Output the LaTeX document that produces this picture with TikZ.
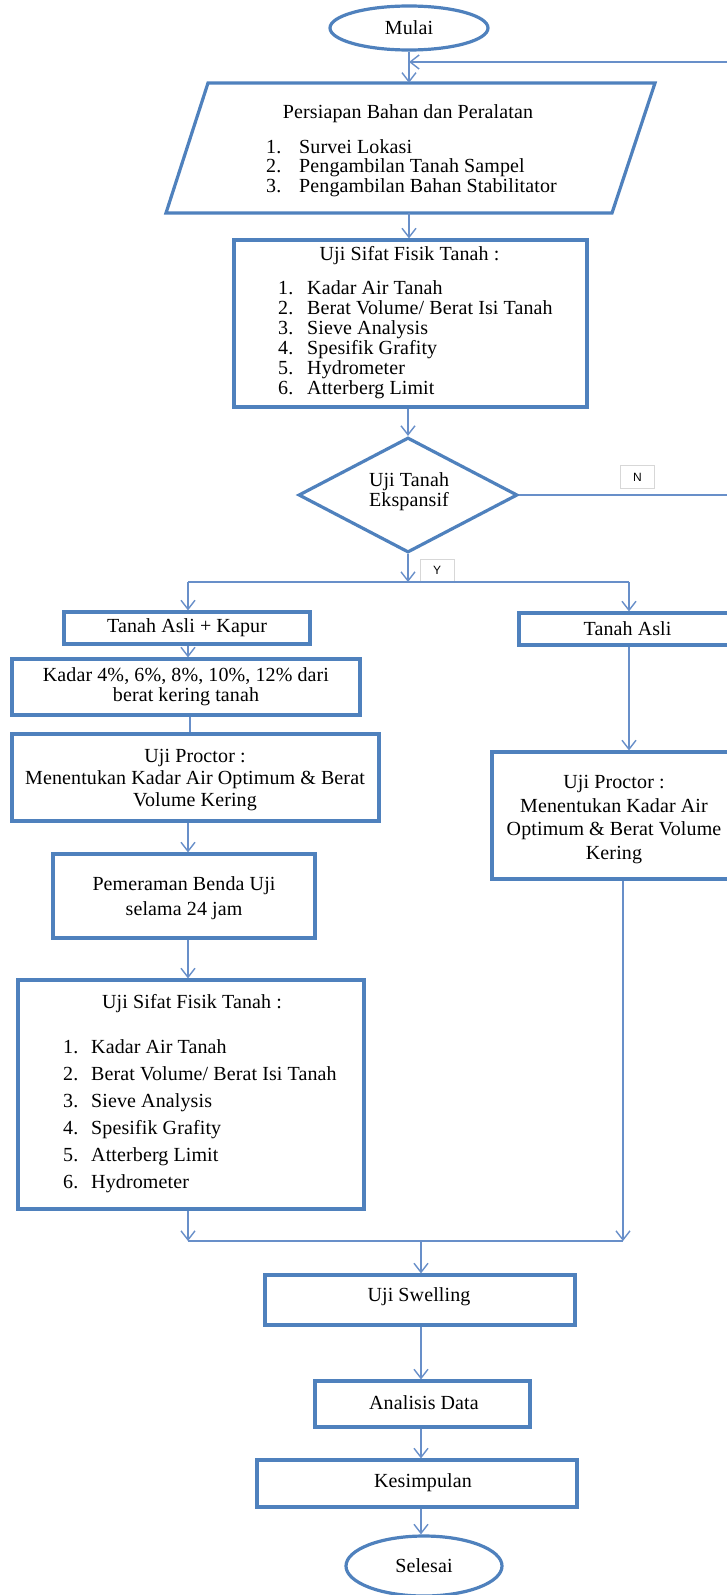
\documentclass[tikz,border=0pt]{standalone}
\usepackage{fontspec}
\setmainfont{Liberation Serif}[LetterSpace=0.6]
\newfontfamily\lblsans{Liberation Sans}
\usetikzlibrary{arrows.meta,shapes.geometric}
\definecolor{boxblue}{RGB}{79,129,189}
\definecolor{lineblue}{RGB}{104,143,201}
\definecolor{lblgray}{RGB}{215,215,215}
\newcommand\fs{\fontsize{20}{20}\selectfont}
\begin{document}
\begin{tikzpicture}[x=1pt,y=-1pt,
  box/.style={draw=boxblue, line width=3.2pt, fill=white, inner sep=0pt, rectangle},
  boxline/.style={draw=boxblue, line width=3.2pt},
  oval/.style={ellipse, draw=boxblue, line width=3.2pt, fill=white, inner sep=0pt, font=\fs},
  conn/.style={draw=lineblue, line width=1.4pt},
  arr/.style={conn, -{Straight Barb[length=9pt,width=14pt]}},
  txt/.style={inner sep=0pt, font=\fs, align=center},
  lbl/.style={draw=lblgray, fill=white, font=\lblsans\fontsize{12}{12}\selectfont, minimum width=34pt, minimum height=23pt, inner sep=0pt, line width=0.8pt}]
\useasboundingbox (0,0) rectangle (727,1595);
\clip (0,0) rectangle (727,1595);
\fill[white] (0,0) rectangle (727,1595);

% column coordinates
\coordinate (cT) at (409,0);
\coordinate (cL) at (188,0);
\coordinate (cK) at (190,0);
\coordinate (cR1) at (629,0);
\coordinate (cR2) at (623,0);
\coordinate (cC) at (421,0);

% ---- nodes ----
\node[oval, minimum width=158pt, minimum height=44pt] (mulai) at (409,28) {Mulai};

\node[inner sep=0pt, minimum width=446pt, minimum height=130pt] (par) at (409,148) {};
\draw[boxline] (208,83) -- (655,83) -- (612,213) -- (166,213) -- cycle;
\node[txt] (part) at (408,114) {Persiapan Bahan dan Peralatan};
\node[anchor=base west, inner sep=0pt] (parl) at (266,153) {\fontsize{20}{19.5}\selectfont
  \begin{tabular}[t]{@{}p{33pt}@{}l@{}}1.&Survei Lokasi\\2.&Pengambilan Tanah Sampel\\3.&Pengambilan Bahan Stabilitator\end{tabular}};

\node[box, minimum width=353pt, minimum height=167pt] (b1) at (410.5,323.5) {};
\node[txt] (b1t) at (409.5,256) {Uji Sifat Fisik Tanah :};
\node[anchor=base west, inner sep=0pt] (b1l) at (278,294) {\fontsize{20}{20}\selectfont
  \begin{tabular}[t]{@{}p{29pt}@{}l@{}}1.&Kadar Air Tanah\\2.&Berat Volume/ Berat Isi Tanah\\3.&Sieve Analysis\\4.&Spesifik Grafity\\5.&Hydrometer\\6.&Atterberg Limit\end{tabular}};

\node[diamond, draw=boxblue, line width=3.2pt, fill=white, minimum width=219pt, minimum height=115pt, inner sep=0pt] (dia) at (408,495) {};
\node[txt] (diat) at (409,492) {Uji Tanah\\Ekspansif};

\node[lbl] (nlab) at (637.5,477) {N};
\node[lbl] (ylab) at (437,570.5) {Y};

\coordinate (spl) at (408,582);
\coordinate (splL) at (188,582);
\coordinate (splR) at (629,582);

\node[box, minimum width=246pt, minimum height=32pt] (kap) at (187,628) {};
\node[txt] (kapt) at (187,628) {Tanah Asli + Kapur};

\node[box, minimum width=221pt, minimum height=32pt] (asli) at (629.5,629) {};
\node[txt] (aslit) at (627.5,629) {Tanah Asli};

\node[box, minimum width=348pt, minimum height=56pt] (kad) at (186,687) {};
\node[txt] (kadt) at (186,687) {Kadar 4\%, 6\%, 8\%, 10\%, 12\% dari\\berat kering tanah};

\node[box, minimum width=367pt, minimum height=87pt] (prl) at (195.5,777.5) {};
\node[txt, font=\fontsize{20}{22}\selectfont] (prlt) at (195,780) {Uji Proctor :\\Menentukan Kadar Air Optimum \& Berat\\Volume Kering};

\node[box, minimum width=262pt, minimum height=84pt] (pem) at (184,896) {};
\node[txt, font=\fontsize{20}{25}\selectfont] (pemt) at (184,898) {Pemeraman Benda Uji\\selama 24 jam};

\node[box, minimum width=346pt, minimum height=229pt] (b2) at (191,1094.5) {};
\node[txt] (b2t) at (192,1004) {Uji Sifat Fisik Tanah :};
\node[anchor=base west, inner sep=0pt] (b2l) at (63,1053) {\fontsize{20}{27}\selectfont
  \begin{tabular}[t]{@{}p{28pt}@{}l@{}}1.&Kadar Air Tanah\\2.&Berat Volume/ Berat Isi Tanah\\3.&Sieve Analysis\\4.&Spesifik Grafity\\5.&Atterberg Limit\\6.&Hydrometer\end{tabular}};

\node[box, minimum width=248pt, minimum height=127pt] (prr) at (616,815.5) {};
\node[txt, font=\fontsize{20}{23.5}\selectfont] (prrt) at (614,819.5) {Uji Proctor :\\Menentukan Kadar Air\\Optimum \& Berat Volume\\Kering};

\coordinate (jL) at (188,1241);
\coordinate (jR) at (623,1241);
\coordinate (jC) at (421,1241);

\node[box, minimum width=310pt, minimum height=50pt] (sw) at (420,1300) {};
\node[txt] (swt) at (419,1297) {Uji Swelling};

\node[box, minimum width=215pt, minimum height=46pt] (an) at (422.5,1404) {};
\node[txt] (ant) at (424,1403) {Analisis Data};

\node[box, minimum width=320pt, minimum height=47pt] (kes) at (417,1483.5) {};
\node[txt] (kest) at (423,1483) {Kesimpulan};

\node[oval, minimum width=156pt, minimum height=60pt] (sel) at (424,1566) {Selesai};

% ---- connectors ----
\draw[arr] (mulai.south -| cT) -- (par.north -| cT);
\draw[arr] (dia.east) -- (740,495) -- (740,62) -- (cT |- 0,62);
\draw[arr] (par.south -| cT) -- (b1.north -| cT);
\draw[arr] (b1.south -| dia.north) -- (dia.north);
\draw[arr] (dia.south) -- (spl);
\draw[conn] (splL) -- (splR);
\draw[arr] (splL) -- (kap.north -| cL);
\draw[arr] (splR) -- (asli.north -| cR1);
\draw[arr] (kap.south -| cL) -- (kad.north -| cL);
\draw[conn] (kad.south -| cK) -- (prl.north -| cK);
\draw[arr] (prl.south -| cL) -- (pem.north -| cL);
\draw[arr] (pem.south -| cL) -- (b2.north -| cL);
\draw[arr] (b2.south -| cL) -- (jL);
\draw[arr] (asli.south -| cR1) -- (prr.north -| cR1);
\draw[arr] (prr.south -| cR2) -- (jR);
\draw[conn] (jL) -- (jR);
\draw[arr] (jC) -- (sw.north -| cC);
\draw[arr] (sw.south -| cC) -- (an.north -| cC);
\draw[arr] (an.south -| cC) -- (kes.north -| cC);
\draw[arr] (kes.south -| cC) -- (sel.north -| cC);
\end{tikzpicture}
\end{document}
